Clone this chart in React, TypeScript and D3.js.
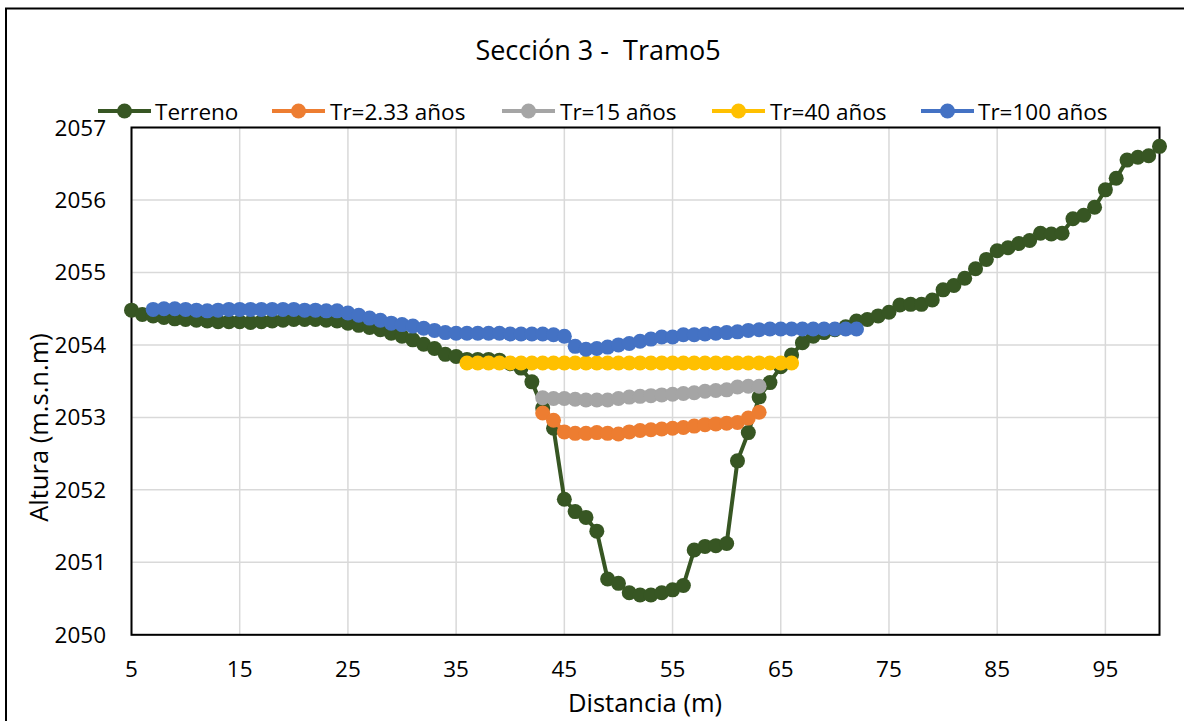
import React from "react";
import * as d3 from "d3";

const terrenoX = [5,6,7,8,9,10,11,12,13,14,15,16,17,18,19,20,21,22,23,24,25,26,27,28,29,30,31,32,33,34,35,36,37,38,39,40,41,42,43,44,45,46,47,48,49,50,51,52,53,54,55,56,57,58,59,60,61,62,63,64,65,66,67,68,69,70,71,72,73,74,75,76,77,78,79,80,81,82,83,84,85,86,87,88,89,90,91,92,93,94,95,96,97,98,99,100];
const terrenoY = [2054.48,2054.42,2054.40,2054.38,2054.36,2054.35,2054.34,2054.33,2054.32,2054.32,2054.32,2054.31,2054.32,2054.33,2054.34,2054.35,2054.35,2054.35,2054.34,2054.33,2054.30,2054.27,2054.24,2054.21,2054.16,2054.12,2054.07,2054.01,2053.95,2053.87,2053.84,2053.80,2053.80,2053.80,2053.79,2053.74,2053.68,2053.49,2053.13,2052.85,2051.87,2051.70,2051.62,2051.43,2050.77,2050.71,2050.58,2050.55,2050.55,2050.58,2050.62,2050.68,2051.17,2051.22,2051.23,2051.26,2052.40,2052.79,2053.28,2053.48,2053.70,2053.86,2054.03,2054.12,2054.17,2054.21,2054.25,2054.33,2054.35,2054.40,2054.45,2054.55,2054.56,2054.56,2054.62,2054.76,2054.82,2054.92,2055.05,2055.18,2055.30,2055.34,2055.40,2055.44,2055.54,2055.53,2055.54,2055.74,2055.79,2055.90,2056.14,2056.30,2056.55,2056.59,2056.61,2056.74];

const tr233X = [43,44,45,46,47,48,49,50,51,52,53,54,55,56,57,58,59,60,61,62,63];
const tr233Y = [2053.06,2052.96,2052.80,2052.78,2052.78,2052.79,2052.78,2052.77,2052.80,2052.82,2052.83,2052.84,2052.85,2052.86,2052.88,2052.90,2052.91,2052.92,2052.93,2052.99,2053.07];

const tr15X = [43,44,45,46,47,48,49,50,51,52,53,54,55,56,57,58,59,60,61,62,63];
const tr15Y = [2053.27,2053.26,2053.26,2053.25,2053.24,2053.24,2053.24,2053.26,2053.28,2053.29,2053.30,2053.31,2053.32,2053.33,2053.34,2053.36,2053.37,2053.38,2053.42,2053.43,2053.43];

const tr40X = [36,37,38,39,40,41,42,43,44,45,46,47,48,49,50,51,52,53,54,55,56,57,58,59,60,61,62,63,64,65,66];
const tr40Y = [2053.75,2053.75,2053.75,2053.75,2053.75,2053.75,2053.75,2053.75,2053.75,2053.75,2053.75,2053.75,2053.75,2053.75,2053.75,2053.75,2053.75,2053.75,2053.75,2053.75,2053.75,2053.75,2053.75,2053.75,2053.75,2053.75,2053.75,2053.75,2053.75,2053.75,2053.75];

const tr100X = [7,8,9,10,11,12,13,14,15,16,17,18,19,20,21,22,23,24,25,26,27,28,29,30,31,32,33,34,35,36,37,38,39,40,41,42,43,44,45,46,47,48,49,50,51,52,53,54,55,56,57,58,59,60,61,62,63,64,65,66,67,68,69,70,71,72];
const tr100Y = [2054.49,2054.50,2054.50,2054.49,2054.48,2054.47,2054.48,2054.49,2054.49,2054.49,2054.49,2054.49,2054.49,2054.49,2054.48,2054.48,2054.47,2054.47,2054.44,2054.41,2054.37,2054.34,2054.30,2054.28,2054.26,2054.23,2054.20,2054.17,2054.16,2054.16,2054.16,2054.16,2054.16,2054.15,2054.15,2054.15,2054.15,2054.14,2054.12,2053.98,2053.94,2053.95,2053.97,2054.00,2054.02,2054.05,2054.08,2054.11,2054.11,2054.14,2054.14,2054.15,2054.16,2054.17,2054.18,2054.20,2054.21,2054.22,2054.22,2054.22,2054.22,2054.22,2054.22,2054.22,2054.22,2054.22];

const seriesNames = ["Terreno", "Tr=2.33 años", "Tr=15 años", "Tr=40 años", "Tr=100 años"];
const seriesColors = ["#375623", "#ED7D31", "#A5A5A5", "#FFC000", "#4472C4"];

const xTicks = [5, 15, 25, 35, 45, 55, 65, 75, 85, 95];
const yTicks = [2050, 2051, 2052, 2053, 2054, 2055, 2056, 2057];

const FONT = "'Open Sans', sans-serif";

export default function App() {
  const W = 1184, H = 721;
  const left = 131.5, right = 1159.5, top = 127.5, bottom = 634.8;
  const x = d3.scaleLinear().domain([5, 100]).range([left, right]);
  const y = d3.scaleLinear().domain([2050, 2057]).range([bottom, top]);

  const allX = [terrenoX, tr233X, tr15X, tr40X, tr100X];
  const allY = [terrenoY, tr233Y, tr15Y, tr40Y, tr100Y];
  const series = allX.map((xs, i) => xs.map((v, j) => [v, allY[i][j]] as [number, number]));

  const line = d3.line<[number, number]>().x(d => x(d[0])).y(d => y(d[1]));

  const legendItems = [
    { x0: 98, x1: 151, tx: 155 },
    { x0: 272, x1: 325, tx: 330 },
    { x0: 502, x1: 555, tx: 560 },
    { x0: 712, x1: 765, tx: 770 },
    { x0: 921, x1: 974, tx: 978 },
  ];
  const legendY = 111;

  return (
    <svg width={W} height={H} style={{ position: "absolute", left: 0, top: 0, background: "#fff" }} fontFamily={FONT}>
      <rect x={0} y={0} width={W} height={H} fill="#fff" />
      <rect x={6} y={8.5} width={1300} height={900} fill="none" stroke="#000" strokeWidth={2} />

      {/* gridlines */}
      {yTicks.map(t => (
        <line key={"gy" + t} x1={left} x2={right} y1={y(t)} y2={y(t)} stroke="#D9D9D9" strokeWidth={1.5} />
      ))}
      {xTicks.map(t => (
        <line key={"gx" + t} x1={x(t)} x2={x(t)} y1={top} y2={bottom} stroke="#D9D9D9" strokeWidth={1.5} />
      ))}
      <rect x={left} y={top} width={right - left} height={bottom - top} fill="none" stroke="#000" strokeWidth={2} />

      {/* series */}
      {series.map((s, i) => (
        <g key={"s" + i}>
          <path d={line(s) || ""} fill="none" stroke={seriesColors[i]} strokeWidth={4} strokeLinejoin="round" />
          {s.map((p, j) => (
            <circle key={j} cx={x(p[0])} cy={y(p[1])} r={7.5} fill={seriesColors[i]} />
          ))}
        </g>
      ))}

      {/* axes labels */}
      {yTicks.map(t => (
        <text key={"ly" + t} x={106} y={y(t) + 8} textAnchor="end" fontSize={22.5} fill="#000">{t}</text>
      ))}
      {xTicks.map(t => (
        <text key={"lx" + t} x={x(t)} y={677} textAnchor="middle" fontSize={22.5} fill="#000">{t}</text>
      ))}

      <text x={645} y={712} textAnchor="middle" fontSize={25.5} fill="#000">Distancia (m)</text>
      <text transform="translate(48,427.5) rotate(-90)" textAnchor="middle" fontSize={25.5} fill="#000">Altura (m.s.n.m)</text>

      <text x={598} y={59.5} textAnchor="middle" fontSize={27} fill="#000" style={{ whiteSpace: "pre" }} xmlSpace="preserve">{"Sección 3 -  Tramo5"}</text>

      {/* legend */}
      {legendItems.map((it, i) => (
        <g key={"lg" + i}>
          <line x1={it.x0} x2={it.x1} y1={legendY} y2={legendY} stroke={seriesColors[i]} strokeWidth={4} />
          <circle cx={(it.x0 + it.x1) / 2} cy={legendY} r={7.5} fill={seriesColors[i]} />
          <text x={it.tx} y={legendY + 8.5} fontSize={22.5} fill="#000">{seriesNames[i]}</text>
        </g>
      ))}
    </svg>
  );
}
